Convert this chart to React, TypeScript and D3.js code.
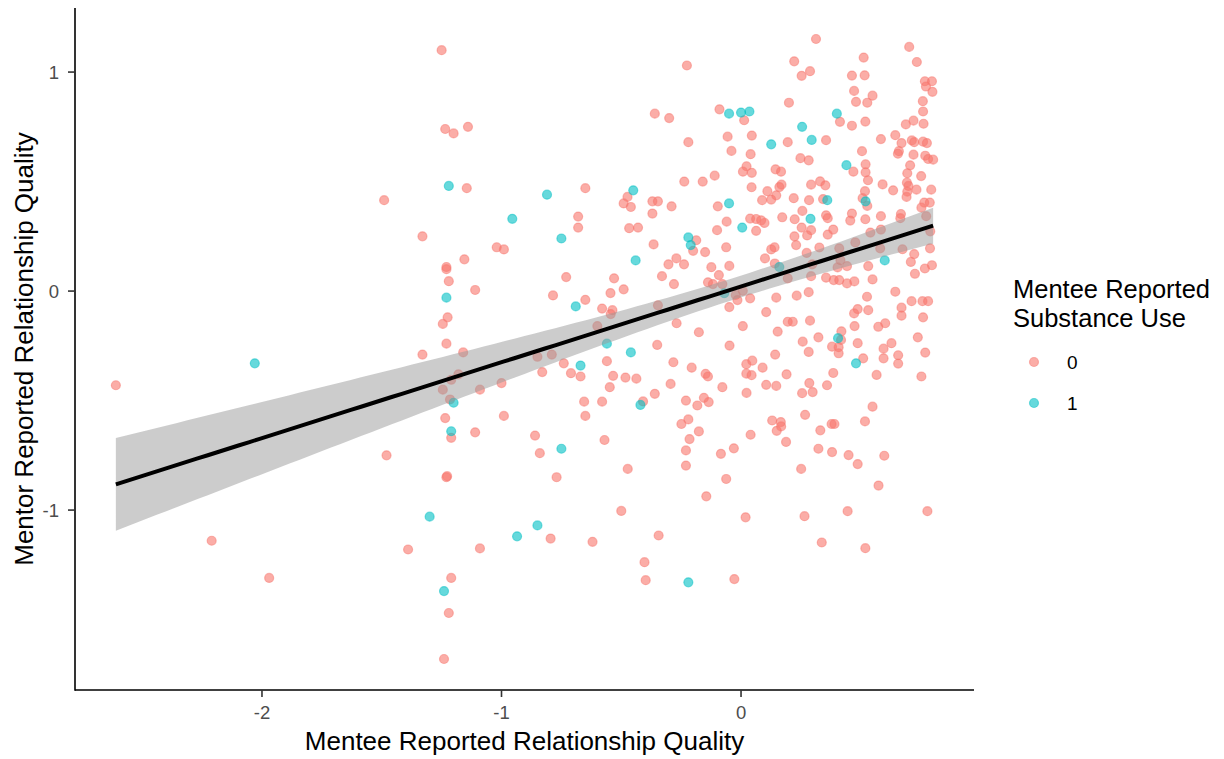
import * as d3 from "d3";

// mentee (x) vs mentor (y) reported relationship quality, by mentee substance use
const useNone: [number, number][] = [
  [-2.61, -0.43], [-1.49, 0.415], [-1.48, -0.75], [-2.21, -1.14], [-1.97, -1.31], [-1.39, -1.18], [-1.33, 0.25], [-1.33, -0.29],
  [-1.25, 1.10], [-1.235, 0.74], [-1.20, 0.72], [-1.14, 0.75], [-1.145, 0.47], [-0.65, 0.47], [-0.68, 0.34], [-0.68, 0.29],
  [-1.02, 0.20], [-0.99, 0.19], [-1.155, 0.145], [-1.23, 0.10], [-1.23, 0.11], [-1.22, 0.045], [-1.11, 0.005], [-0.73, 0.064],
  [-0.785, -0.02], [-0.65, -0.04], [-0.58, -0.08], [-1.225, -0.12], [-1.245, -0.15], [-1.23, -0.24], [-1.16, -0.28], [-0.85, -0.30],
  [-0.79, -0.29], [-0.60, -0.16], [-0.74, -0.33], [-0.83, -0.37], [-0.71, -0.375], [-0.67, -0.39], [-0.56, -0.32], [-1.18, -0.38],
  [-1.21, -0.405], [-1.245, -0.45], [-1.09, -0.45], [-1.00, -0.42], [-1.215, -0.495], [-1.235, -0.58], [-0.99, -0.57], [-0.655, -0.505],
  [-0.58, -0.505], [-0.65, -0.57], [-1.21, -0.67], [-1.11, -0.645], [-0.86, -0.66], [-0.57, -0.68], [-0.84, -0.74],
  [-1.23, -0.85], [-1.227, -0.845], [-0.77, -0.85], [-0.795, -1.13], [-0.62, -1.145], [-1.09, -1.175], [-1.21, -1.31], [-1.22, -1.47], [-1.24, -1.68],
  [-0.226, 1.03], [-0.36, 0.81], [-0.30, 0.79], [-0.09, 0.83], [0.013, 0.78], [-0.22, 0.68], [-0.056, 0.705], [0.045, 0.71],
  [-0.04, 0.64], [0.04, 0.625], [0.195, 0.68], [0.20, 0.86], [0.023, 0.57], [0.008, 0.545], [0.045, 0.54], [0.144, 0.556],
  [0.167, 0.545], [-0.237, 0.50], [-0.16, 0.50], [-0.11, 0.527], [-0.474, 0.43], [-0.49, 0.40], [-0.46, 0.384], [-0.37, 0.41],
  [-0.347, 0.41], [-0.29, 0.387], [-0.37, 0.354], [-0.097, 0.387], [0.044, 0.474], [0.11, 0.456], [0.088, 0.415], [0.126, 0.418],
  [0.147, 0.437], [0.16, 0.475], [0.169, 0.486], [-0.467, 0.287], [-0.43, 0.29], [-0.06, 0.317], [-0.10, 0.278], [0.038, 0.331],
  [0.063, 0.329], [0.084, 0.323], [0.098, 0.311], [0.063, 0.275], [0.172, 0.337], [-0.187, 0.232],
  [-0.20, 0.184], [-0.15, 0.178], [-0.365, 0.213], [-0.062, 0.20], [0.10, 0.149], [0.126, 0.19], [0.14, 0.20], [-0.27, 0.149],
  [-0.303, 0.122], [-0.238, 0.122], [-0.124, 0.109], [-0.049, 0.115], [0.141, 0.126], [-0.53, 0.058], [-0.33, 0.068], [-0.28, 0.032],
  [-0.0925, 0.073], [-0.138, 0.04], [-0.1175, 0.032], [-0.078, 0.032], [-0.49, 0.008], [-0.545, -0.009], [-0.022, -0.018], [-0.015, -0.041],
  [0.0075, 0.001], [0.038, -0.033], [0.147, -0.03], [0.195, 0.058], [-0.537, -0.087], [-0.544, -0.105], [-0.347, -0.065], [-0.049, -0.073],
  [0.105, -0.096], [-0.269, -0.147], [0.0075, -0.16], [0.195, -0.14], [-0.176, -0.188], [0.153, -0.185], [-0.35, -0.246], [-0.048, -0.249],
  [0.1425, -0.29], [-0.2825, -0.325], [-0.206, -0.35], [0.022, -0.334], [0.047, -0.318], [0.09, -0.35], [-0.534, -0.387], [-0.4825, -0.395],
  [-0.437, -0.40], [-0.148, -0.378], [-0.138, -0.39], [0.022, -0.377], [0.044, -0.384], [0.19, -0.38], [-0.548, -0.439], [-0.294, -0.424],
  [-0.078, -0.439], [0.105, -0.428], [0.147, -0.433], [0.023, -0.465], [-0.36, -0.469], [-0.409, -0.504], [-0.23, -0.50], [-0.1825, -0.5225],
  [-0.155, -0.4875], [-0.135, -0.507], [-0.249, -0.607], [-0.22, -0.586], [-0.176, -0.641], [0.13, -0.591], [0.166, -0.598], [0.149, -0.638],
  [0.1675, -0.618], [-0.215, -0.676], [0.04, -0.656], [0.188, -0.689], [-0.23, -0.7275], [-0.084, -0.743], [-0.03, -0.718], [-0.23, -0.797],
  [-0.473, -0.812],
  [-0.062, -0.858], [-0.145, -0.937], [-0.50, -1.004], [0.019, -1.033], [-0.344, -1.116], [-0.403, -1.238], [-0.398, -1.32], [-0.028, -1.315],
  [0.313, 1.151], [0.702, 1.115], [0.222, 1.049], [0.512, 1.066], [0.734, 1.046], [0.253, 0.983], [0.288, 1.004], [0.463, 0.984],
  [0.516, 0.985], [0.7675, 0.958], [0.797, 0.958], [0.772, 0.934], [0.799, 0.91], [0.472, 0.914], [0.549, 0.892], [0.48, 0.864],
  [0.527, 0.86], [0.759, 0.867], [0.76, 0.82], [0.413, 0.773], [0.463, 0.755], [0.519, 0.774], [0.688, 0.761], [0.72, 0.778],
  [0.762, 0.764], [0.355, 0.689], [0.584, 0.694], [0.644, 0.712], [0.67, 0.676], [0.713, 0.688], [0.723, 0.68], [0.76, 0.682],
  [0.776, 0.676], [0.505, 0.639], [0.659, 0.639], [0.655, 0.627], [0.72, 0.623], [0.769, 0.618], [0.781, 0.603], [0.802, 0.60],
  [0.248, 0.607], [0.2825, 0.597], [0.469, 0.545], [0.52, 0.579], [0.52, 0.542], [0.53, 0.506], [0.706, 0.574], [0.694, 0.538],
  [0.752, 0.525], [0.2925, 0.486], [0.33, 0.501], [0.352, 0.483], [0.591, 0.487], [0.635, 0.46], [0.6925, 0.495], [0.699, 0.48],
  [0.694, 0.454], [0.7325, 0.463], [0.794, 0.463], [0.5175, 0.456], [0.22, 0.424], [0.284, 0.415], [0.3425, 0.42], [0.5075, 0.424],
  [0.527, 0.389], [0.691, 0.43], [0.765, 0.404], [0.788, 0.404], [0.753, 0.381], [0.256, 0.366], [0.224, 0.328], [0.355, 0.346],
  [0.362, 0.333], [0.463, 0.354], [0.456, 0.322], [0.519, 0.328], [0.584, 0.342], [0.6675, 0.352], [0.665, 0.333], [0.773, 0.342],
  [0.79, 0.273], [0.253, 0.29], [0.2925, 0.278], [0.385, 0.281], [0.223, 0.25], [0.276, 0.254], [0.362, 0.258], [0.54, 0.267], [0.584, 0.281],
  [0.23, 0.21], [0.274, 0.174], [0.327, 0.199], [0.41, 0.195], [0.477, 0.222], [0.581, 0.195], [0.674, 0.191], [0.789, 0.195],
  [0.723, 0.169], [0.709, 0.133], [0.7675, 0.103], [0.797, 0.118], [0.726, 0.079], [0.297, 0.122], [0.415, 0.141], [0.403, 0.108],
  [0.4425, 0.114], [0.531, 0.114], [0.2925, 0.068], [0.355, 0.061], [0.387, 0.05], [0.41, 0.05], [0.4425, 0.035], [0.473, 0.044],
  [0.549, 0.053], [0.2325, -0.021], [0.2825, -0.005], [0.644, -0.003], [0.526, -0.026], [0.712, -0.046], [0.7575, -0.046], [0.781, -0.046],
  [0.487, -0.082], [0.472, -0.102], [0.531, -0.087], [0.67, -0.076], [0.67, -0.1125], [0.76, -0.12], [0.216, -0.14], [0.288, -0.135],
  [0.474, -0.16], [0.573, -0.163], [0.602, -0.147], [0.419, -0.184], [0.4175, -0.223], [0.323, -0.211], [0.2575, -0.231], [0.738, -0.211],
  [0.38, -0.254], [0.4075, -0.256], [0.487, -0.238], [0.628, -0.238], [0.595, -0.263], [0.2825, -0.278], [0.4075, -0.284], [0.656, -0.293],
  [0.595, -0.307], [0.51, -0.307], [0.656, -0.331], [0.769, -0.281], [0.385, -0.374], [0.566, -0.383], [0.753, -0.39], [0.285, -0.42],
  [0.359, -0.43], [0.255, -0.466], [0.299, -0.461], [0.549, -0.528], [0.2675, -0.565], [0.378, -0.607], [0.39, -0.607], [0.5175, -0.595],
  [0.331, -0.636], [0.323, -0.72], [0.38, -0.735], [0.449, -0.749], [0.598, -0.752], [0.487, -0.79], [0.251, -0.812],
  [0.574, -0.888], [0.265, -1.028], [0.445, -1.005], [0.778, -1.005], [0.337, -1.148], [0.519, -1.174],
];

const useSome: [number, number][] = [
  [-2.03, -0.33], [-1.30, -1.03], [-1.24, -1.37], [-1.22, 0.48], [-0.81, 0.44], [-0.955, 0.33], [-0.75, 0.24], [-1.23, -0.03],
  [-0.69, -0.07], [-0.56, -0.24], [-0.67, -0.34], [-1.20, -0.51], [-1.21, -0.64], [-0.75, -0.72], [-0.85, -1.07], [-0.935, -1.12],
  [-0.05, 0.81], [0.0, 0.815], [0.035, 0.82], [0.126, 0.67], [-0.45, 0.46], [-0.05, 0.40], [0.005, 0.29], [-0.22, 0.245],
  [-0.21, 0.21], [-0.44, 0.14], [0.16, 0.11], [-0.07, -0.01], [-0.46, -0.28], [-0.42, -0.52], [-0.22, -1.33], [0.40, 0.81],
  [0.255, 0.75], [0.295, 0.69], [0.44, 0.575], [0.36, 0.415], [0.52, 0.41], [0.29, 0.33], [0.60, 0.14], [0.405, -0.215], [0.48, -0.33],
];

const groups = [
  { label: "0", color: "#F8766D", points: useNone },
  { label: "1", color: "#00BFC4", points: useSome },
];
const xTicks = [-2, -1, 0];
const yTicks = [-1, 0, 1];

const W = 1224;
const H = 759;
const panel = { left: 75, right: 974, top: 8, bottom: 690 };
const font = "'Liberation Sans', Arial, Helvetica, sans-serif";

// ggplot-style 5% expansion
function expand([a, b]: [number, number]): [number, number] {
  const pad = (b - a) * 0.05;
  return [a - pad, b + pad];
}

export default function App() {
  const all = [...useNone, ...useSome];
  const xExt = d3.extent(all, (d) => d[0]) as [number, number];
  const yExt = d3.extent(all, (d) => d[1]) as [number, number];
  const x = d3.scaleLinear().domain(expand(xExt)).range([panel.left, panel.right]);
  const y = d3.scaleLinear().domain(expand(yExt)).range([panel.bottom, panel.top]);

  // linear fit with 95% confidence band
  const n = all.length;
  const xbar = d3.mean(all, (d) => d[0])!;
  const ybar = d3.mean(all, (d) => d[1])!;
  const sxx = d3.sum(all, (d) => (d[0] - xbar) ** 2);
  const sxy = d3.sum(all, (d) => (d[0] - xbar) * (d[1] - ybar));
  const slope = sxy / sxx;
  const icpt = ybar - slope * xbar;
  const s = Math.sqrt(d3.sum(all, (d) => (d[1] - icpt - slope * d[0]) ** 2) / (n - 2));
  const tval = 1.9654;
  const grid = d3.range(0, 81).map((i) => xExt[0] + ((xExt[1] - xExt[0]) * i) / 80);
  const fit = grid.map((gx) => {
    const yh = icpt + slope * gx;
    const se = s * Math.sqrt(1 / n + (gx - xbar) ** 2 / sxx);
    return { gx, yh, lo: yh - tval * se, hi: yh + tval * se };
  });
  const band = d3
    .area<(typeof fit)[number]>()
    .x((d) => x(d.gx))
    .y0((d) => y(d.lo))
    .y1((d) => y(d.hi))(fit)!;
  const line = d3
    .line<(typeof fit)[number]>()
    .x((d) => x(d.gx))
    .y((d) => y(d.yh))(fit)!;

  return (
    <svg
      width={W}
      height={H}
      style={{ position: "absolute", left: 0, top: 0, background: "#fff" }}
      fontFamily={font}
    >
      {groups.map((g) => (
        <g key={g.label}>
          {g.points.map((p, i) => (
            <circle
              key={i}
              cx={x(p[0])}
              cy={y(p[1])}
              r={4.5}
              fill={g.color}
              fillOpacity={0.6}
              stroke={g.color}
              strokeOpacity={0.5}
              strokeWidth={1.2}
            />
          ))}
        </g>
      ))}

      <path d={band} fill="#999999" fillOpacity={0.5} />
      <path d={line} fill="none" stroke="#000" strokeWidth={4} />

      {/* axes */}
      <line x1={panel.left} x2={panel.left} y1={panel.top} y2={panel.bottom + 0.8} stroke="#000" strokeWidth={1.6} />
      <line x1={panel.left} x2={panel.right} y1={panel.bottom} y2={panel.bottom} stroke="#000" strokeWidth={1.6} />
      {xTicks.map((t) => (
        <g key={t} transform={`translate(${x(t)},0)`}>
          <line y1={panel.bottom} y2={panel.bottom + 7} stroke="#333" strokeWidth={1.6} />
          <text y={719} textAnchor="middle" fontSize={18.5} fill="#4d4d4d">
            {t}
          </text>
        </g>
      ))}
      {yTicks.map((t) => (
        <g key={t} transform={`translate(0,${y(t)})`}>
          <line x1={panel.left - 7} x2={panel.left} stroke="#333" strokeWidth={1.6} />
          <text x={59} dy="0.36em" textAnchor="end" fontSize={18.5} fill="#4d4d4d">
            {t}
          </text>
        </g>
      ))}
      <text x={(panel.left + panel.right) / 2} y={750} textAnchor="middle" fontSize={26} fill="#000">
        Mentee Reported Relationship Quality
      </text>
      <text
        transform={`translate(33,${(panel.top + panel.bottom) / 2}) rotate(-90)`}
        textAnchor="middle"
        fontSize={26}
        fill="#000"
      >
        Mentor Reported Relationship Quality
      </text>

      {/* legend */}
      <text x={1013} y={298} fontSize={25.5} fill="#000">
        Mentee Reported
      </text>
      <text x={1013} y={327} fontSize={25.5} fill="#000">
        Substance Use
      </text>
      {groups.map((g, i) => (
        <g key={g.label} transform={`translate(0,${362 + i * 41})`}>
          <circle cx={1034} cy={0} r={4.5} fill={g.color} fillOpacity={0.6} stroke={g.color} strokeOpacity={0.5} strokeWidth={1.2} />
          <text x={1067} dy="0.36em" fontSize={19} fill="#000">
            {g.label}
          </text>
        </g>
      ))}
    </svg>
  );
}
